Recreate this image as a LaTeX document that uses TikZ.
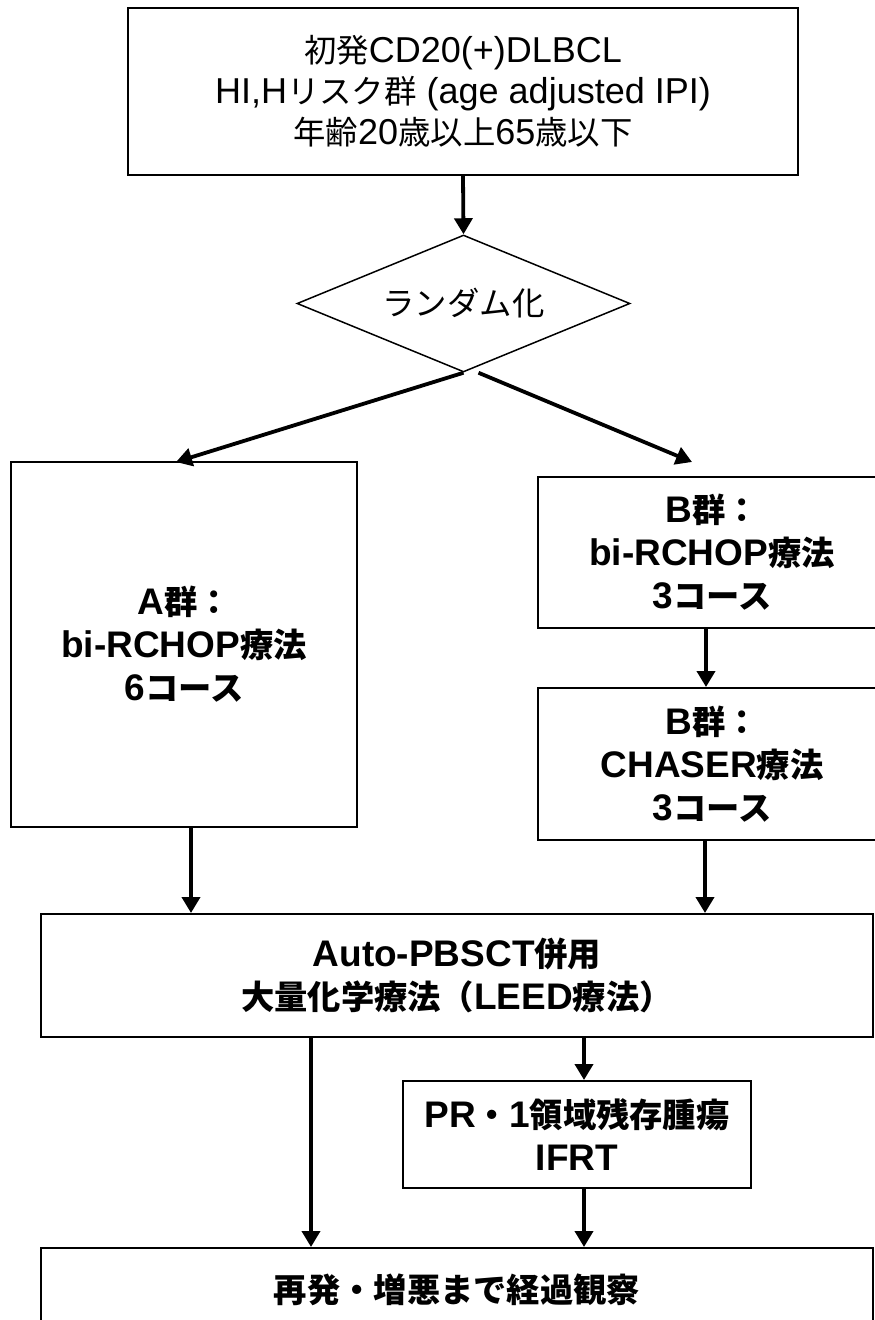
\documentclass[tikz,border=0pt]{standalone}
\usepackage{fontspec}
\setmainfont{Liberation Sans}
\newfontfamily\jp[Scale=0.9]{Noto Sans CJK JP}
\usetikzlibrary{shapes.geometric,arrows.meta}
\newcommand{\J}[1]{{\jp #1}}
\begin{document}
\begin{tikzpicture}[x=1pt,y=-1pt,
  box/.style={draw, line width=2pt, rectangle, inner sep=0pt, align=center,
    font=\bfseries\fontsize{37}{43}\selectfont},
  plain/.style={draw, line width=2pt, rectangle, inner sep=0pt, align=center,
    font=\fontsize{36}{41}\selectfont},
  arr/.style={line width=3.8pt, -{Triangle[length=16pt,width=18pt]}},
]
\useasboundingbox (0,0) rectangle (875,1320);
\clip (0,0) rectangle (875,1320);

\node[plain, minimum width=670pt, minimum height=167pt] (top) at (463,91.5)
  {\J{初発}CD20(+)DLBCL\\HI,H\J{リスク群} (age adjusted IPI)\\\J{年齢}20\J{歳以上}65\J{歳以下}};

\node[draw, diamond, line width=1.5pt, minimum width=333pt, minimum height=137pt,
  inner sep=0pt, aspect=2.4, font=\fontsize{36}{41}\selectfont] (rand) at (463.5,303.5)
  {\J{ランダム化}};

\node[box, minimum width=346pt, minimum height=365pt] (A) at (184,644.5)
  {A\J{群：}\\bi-RCHOP\J{療法}\\6\J{コース}};

\node[box, minimum width=348pt, minimum height=151pt] (B1) at (712,552.5)
  {B\J{群：}\\bi-RCHOP\J{療法}\\3\J{コース}};

\node[box, minimum width=348pt, minimum height=152pt] (B2) at (712,764)
  {B\J{群：}\\CHASER\J{療法}\\3\J{コース}};

\node[box, minimum width=832pt, minimum height=123pt] (auto) at (457,975.5)
  {Auto-PBSCT\J{併用}\\\J{大量化学療法（}LEED\J{療法）}};

\node[box, minimum width=348pt, minimum height=107pt] (PR) at (577,1134.5)
  {PR\J{・}1\J{領域残存腫瘍}\\IFRT};

\node[box, minimum width=832pt, minimum height=84pt] (fin) at (457,1290)
  {\J{再発・増悪まで経過観察}};

\coordinate (aTip) at (176,462);
\coordinate (bTip) at (692,462);
\coordinate (lx) at (311,0);

\draw[arr] (top.south) -- (rand.north);
\draw[arr] (rand.south) -- (aTip);
\draw[arr] ([xshift=15pt]rand.south) -- (bTip);
\draw[arr] ([xshift=-6pt]B1.south) -- ([xshift=-6pt]B2.north);
\draw[arr] ([xshift=7pt]A.south) -- ([xshift=7pt]A.south |- auto.north);
\draw[arr] ([xshift=-7pt]B2.south) -- ([xshift=-7pt]B2.south |- auto.north);
\draw[arr] (auto.south -| lx) -- (fin.north -| lx);
\draw[arr] ([xshift=7pt]PR.north |- auto.south) -- ([xshift=7pt]PR.north);
\draw[arr] ([xshift=7pt]PR.south) -- ([xshift=7pt]PR.south |- fin.north);
\end{tikzpicture}
\end{document}
